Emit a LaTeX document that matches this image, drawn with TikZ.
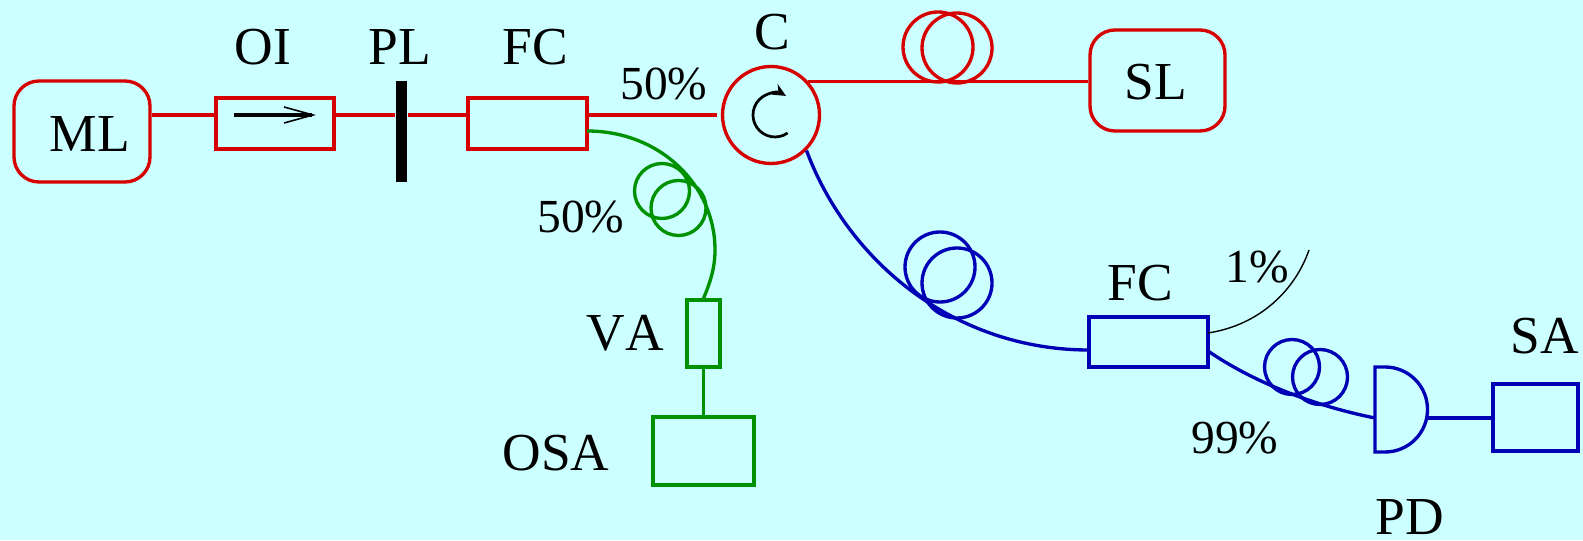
\documentclass[tikz,border=0pt]{standalone}
\usepackage{fontspec}
\setmainfont[Kerning=Off]{Liberation Serif}
\usetikzlibrary{arrows.meta}

\definecolor{bgcyan}{RGB}{204,255,255}
\definecolor{fibred}{RGB}{215,0,0}
\definecolor{fibgreen}{RGB}{0,145,0}
\definecolor{fibblue}{RGB}{0,0,180}

\tikzset{
  fibre/.style={line width=0.95pt},
  box/.style={draw,fibre,rectangle,inner sep=0pt},
  lbl/.style={inner sep=0pt,font=\fontsize{15.2}{18}\selectfont},
  pct/.style={inner sep=0pt,font=\fontsize{13.5}{16}\selectfont},
}

\begin{document}
\begin{tikzpicture}
\path[use as bounding box,fill=bgcyan] (0,0) rectangle (15.83,5.40);

% red part
\node[box,fibred,rounded corners=0.25cm,minimum width=1.36cm,minimum height=1.01cm] (ml) at (0.82,4.085) {};
\node[box,fibred,minimum width=1.18cm,minimum height=0.51cm] (oi) at (2.75,4.165) {};
\node[fill=black,inner sep=0pt,minimum width=0.11cm,minimum height=1.01cm] (pl) at (4.015,4.085) {};
\node[box,fibred,minimum width=1.19cm,minimum height=0.51cm] (fc) at (5.275,4.165) {};
\node[draw=fibred,fibre,circle,inner sep=0pt,minimum size=0.97cm] (c) at (7.71,4.25) {};
\node[box,fibred,rounded corners=0.25cm,minimum width=1.35cm,minimum height=1.01cm] (sl) at (11.575,4.595) {};

\draw[fibre,fibred] (ml.east |- c.west) -- (oi.west |- c.west);
\draw[fibre,fibred] (oi.east |- c.west) -- (pl.west |- c.west);
\draw[fibre,fibred] (pl.east |- c.west) -- (fc.west |- c.west);
\draw[fibre,fibred,shorten >=1pt] (fc.east |- c.west) -- (c.west);
\draw[fibre,fibred] (c.42) -- (sl.west |- c.42);
\draw[fibre,fibred] (9.38,4.93) circle (0.35);
\draw[fibre,fibred] (9.57,4.92) circle (0.35);

\coordinate (oistart) at (2.34,4.25);
\coordinate (oiend) at (3.16,4.25);
\draw[fibre,black,-{Straight Barb[length=0.29cm,width=0.16cm,line width=0.45pt]}] (oistart) -- (oiend);
\coordinate (circstart) at (7.876,4.07);
\draw[line width=0.78pt,-{Stealth[length=0.13cm,width=0.12cm]}] (circstart) arc[start angle=-55,end angle=-300,radius=0.22];

% green part
\node[box,fibgreen,minimum width=0.33cm,minimum height=0.67cm] (va) at (7.035,2.065) {};
\node[box,fibgreen,minimum width=1.01cm,minimum height=0.68cm] (osa) at (7.035,0.89) {};
\coordinate (fcout) at (5.87,4.09);
\draw[fibre,fibgreen] (fcout) .. controls (6.60,4.09) and (7.15,3.55) .. (7.15,2.90)
  .. controls (7.15,2.72) and (7.10,2.57) .. (va.north);
\draw[fibre,fibgreen] (va.south) -- (osa.north);
\draw[fibre,fibgreen] (6.62,3.49) circle (0.275);
\draw[fibre,fibgreen] (6.785,3.32) circle (0.275);

% blue part
\node[box,fibblue,minimum width=1.19cm,minimum height=0.50cm] (fcb) at (11.485,1.98) {};
\node[box,fibblue,minimum width=0.85cm,minimum height=0.67cm] (sa) at (15.355,1.225) {};
\coordinate (fcbin) at (10.89,1.90);
\coordinate (fcbthin) at (12.08,2.07);
\coordinate (fcbout) at (12.08,1.89);
\coordinate (thinend) at (13.09,2.90);
\coordinate (pdin) at (13.75,1.22);
\coordinate (pdout) at (14.27,1.22);

\draw[fibre,fibblue] (c.-45) .. controls (8.48,2.78) and (9.55,1.90) .. (fcbin);
\draw[line width=0.4pt] (fcbthin) .. controls (12.6,2.15) and (12.95,2.5) .. (thinend);
\draw[fibre,fibblue] (fcbout) .. controls (12.50,1.60) and (13.10,1.35) .. (pdin);
\draw[fibre,fibblue] (13.75,1.73) -- (13.85,1.73) arc[start angle=90,end angle=-90,radius=0.425] -- (13.75,0.88) -- cycle;
\draw[fibre,fibblue] (pdout) -- (sa.west |- pdout);
\draw[fibre,fibblue] (9.40,2.73) circle (0.35);
\draw[fibre,fibblue] (9.57,2.57) circle (0.35);
\draw[fibre,fibblue] (12.92,1.73) circle (0.275);
\draw[fibre,fibblue] (13.20,1.63) circle (0.275);

% labels
\node[lbl] (mltext) at (0.90,4.06) {ML};
\node[lbl] (oitext) at (2.63,4.93) {OI};
\node[lbl] (pltext) at (4.00,4.93) {PL};
\node[lbl] (fctext) at (5.35,4.93) {FC};
\node[lbl] (ctext) at (7.72,5.08) {C};
\node[pct] (pa) at (6.64,4.56) {50\%};
\node[pct] (pb) at (5.81,3.23) {50\%};
\node[lbl] (vatext) at (6.25,2.07) {VA};
\node[lbl] (osatext) at (5.56,0.87) {OSA};
\node[lbl] (sltext) at (11.56,4.58) {SL};
\node[lbl] (fcbtext) at (11.40,2.57) {FC};
\node[pct] (pc) at (12.57,2.73) {1\%};
\node[pct] (pd) at (12.35,1.02) {99\%};
\node[lbl] (pdtext) at (14.10,0.23) {PD};
\node[lbl] (satext) at (15.45,2.04) {SA};
\end{tikzpicture}
\end{document}
